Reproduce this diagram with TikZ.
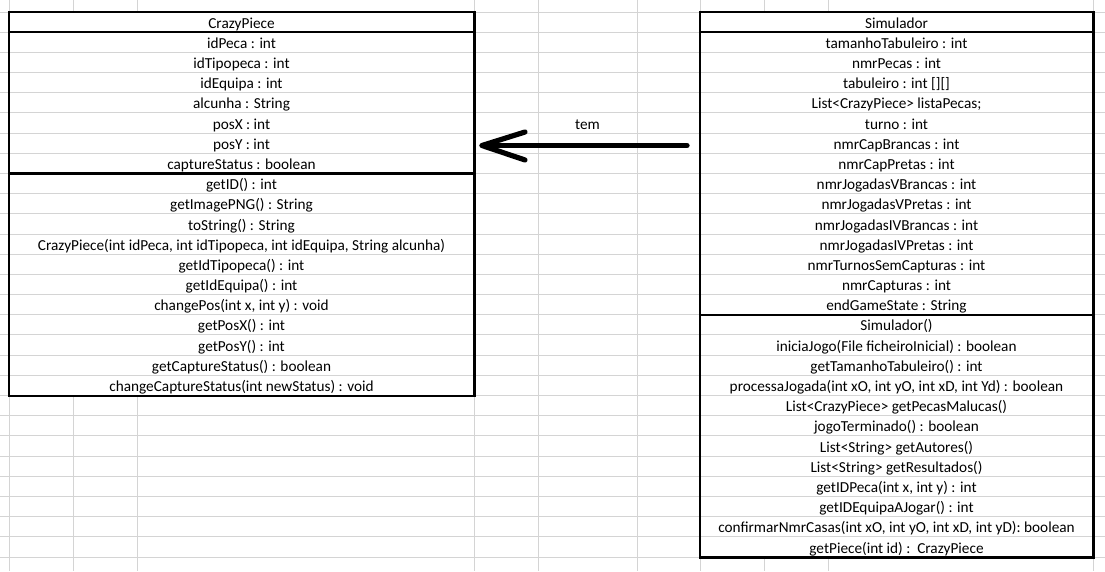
\documentclass[tikz,border=0pt]{standalone}
\usepackage{fontspec}
\setmainfont{Carlito}
\definecolor{gridgray}{RGB}{212,212,212}
\begin{document}
\begin{tikzpicture}[x=0.75pt,y=-0.75pt,
  gridline/.style={draw=gridgray,line width=0.75pt},
  boxline/.style={draw=black,line width=1.6pt},
  cell/.style={anchor=base,inner sep=0pt,text=black,font=\fontsize{11.45pt}{13pt}\selectfont},
  arrowline/.style={draw=black,line width=3.9pt,line cap=round,line join=round}]
\useasboundingbox (0,0) rectangle (1105,571);
\fill[white] (0,0) rectangle (1105,571);
% row lines
\foreach \k in {0,...,27}
  \draw[gridline] (0,{12+\k*20.185}) -- (1105,{12+\k*20.185});
% column lines
\foreach \x in {9,474,538,637,700,1093}
  \draw[gridline] (\x,0) -- (\x,571);
\foreach \x in {73,137}{
  \draw[gridline] (\x,0) -- (\x,12);
  \draw[gridline] (\x,395.5) -- (\x,571);}
\foreach \x in {764,828}{
  \draw[gridline] (\x,0) -- (\x,12);
  \draw[gridline] (\x,557) -- (\x,571);}
% CrazyPiece box
\node[draw=none,inner sep=0pt,minimum width=348.75pt,minimum height=287.6pt,anchor=north west] (crazy) at (9,12) {};
\draw[boxline] (crazy.north west) rectangle (crazy.south east);
\draw[boxline] (9,32.185) -- (474,32.185);
\draw[boxline] (9,173.48) -- (474,173.48);
\foreach \t [count=\k] in {CrazyPiece,idPeca : int,idTipopeca : int,idEquipa : int,alcunha : String,posX : int,posY : int,captureStatus : boolean,getID() : int,getImagePNG() : String,toString() : String,{CrazyPiece(int idPeca, int idTipopeca, int idEquipa, String alcunha)},getIdTipopeca() : int,getIdEquipa() : int,{changePos(int x, int y) : void},getPosX() : int,getPosY() : int,getCaptureStatus() : boolean,changeCaptureStatus(int newStatus) : void}
  \node[cell] (cp\k) at (241.5,{12+\k*20.185-4}) {\t};
% Simulador box
\node[draw=none,inner sep=0pt,minimum width=294.75pt,minimum height=408.75pt,anchor=north west] (sim) at (700,12) {};
\draw[boxline] (sim.north west) rectangle (sim.south east);
\draw[boxline] (700,32.185) -- (1093,32.185);
\draw[boxline] (700,314.78) -- (1093,314.78);
\foreach \t [count=\k] in {Simulador,tamanhoTabuleiro : int,nmrPecas : int,tabuleiro : int {[][]},List<CrazyPiece> listaPecas;,turno : int,nmrCapBrancas : int,nmrCapPretas : int,nmrJogadasVBrancas : int,nmrJogadasVPretas : int,nmrJogadasIVBrancas : int,nmrJogadasIVPretas : int,nmrTurnosSemCapturas : int,nmrCapturas : int,endGameState : String,Simulador(),iniciaJogo(File ficheiroInicial) : boolean,getTamanhoTabuleiro() : int,{processaJogada(int xO, int yO, int xD, int Yd) : boolean},List<CrazyPiece> getPecasMalucas(),jogoTerminado() : boolean,List<String> getAutores(),List<String> getResultados(),{getIDPeca(int x, int y) : int},getIDEquipaAJogar() : int,{confirmarNmrCasas(int xO, int yO, int xD, int yD): boolean},getPiece(int id) :~~CrazyPiece}
  \node[cell] (s\k) at (896.5,{12+\k*20.185-4}) {\t};
% association
\node[cell] (tem) at (587.5,{12+6*20.185-4}) {tem};
\coordinate (tail) at (687,145.5);
\coordinate (tip) at (482,145.5);
\draw[arrowline] (tail) -- (tip);
\draw[arrowline] ([shift={(43,-13.5)}]tip) -- (tip) -- ([shift={(43,14.5)}]tip);
\end{tikzpicture}
\end{document}
